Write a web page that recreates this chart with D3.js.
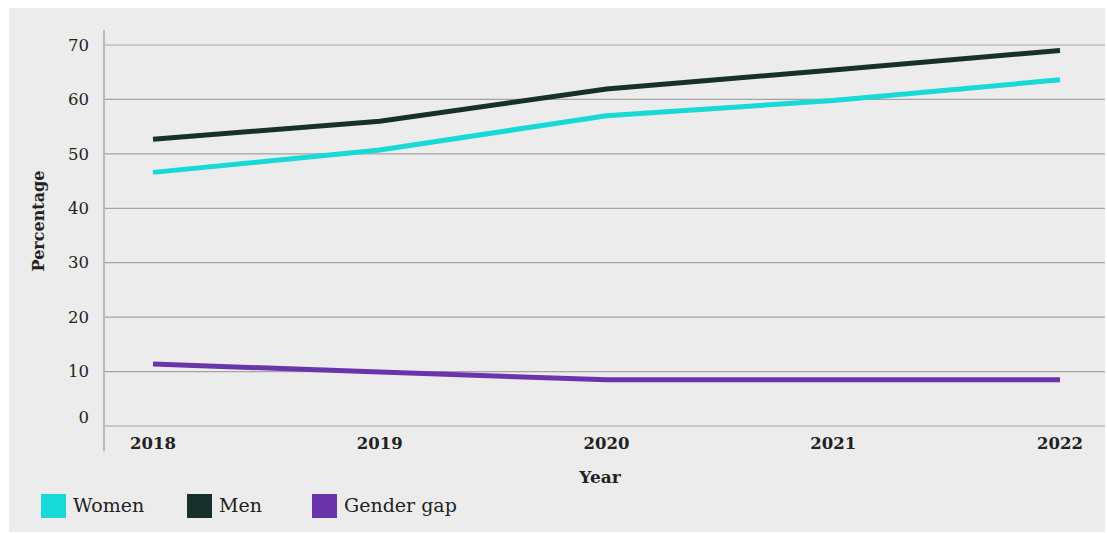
<!DOCTYPE html>
<html lang="en">
<head>
<meta charset="UTF-8">
<title>Percentage by year</title>
<script src="https://d3js.org/d3.v7.min.js"></script>
<style>
    body{ margin:0; background:#fff; }
    text{ font-family: "DejaVu Serif", serif; fill:#222; }
    .grid line{ stroke:#a3a3a3; stroke-width:1.2px; }
    .xtick{ font-weight:bold; font-size:16.5px; }
    .ytick{ font-size:16.5px; }
    path.series{ fill:none; stroke-width:5px; }
</style>
</head>
<body>
<svg width="1107" height="533"></svg>
<script>
    let years = ["2018","2019","2020","2021","2022"];
    let women = [46.6, 50.7, 57.0, 59.8, 63.6];
    let men = [52.7, 56.0, 61.9, 65.4, 69.0];
    let gap = [11.4, 9.9, 8.5, 8.5, 8.5];
    let yTicks = [0,10,20,30,40,50,60,70];
    let seriesNames = ["Women","Men","Gender gap"];
    let seriesColors = ["#17d9d7","#17302a","#6a35ab"];

    let svg = d3.select('svg');
    svg.append('rect').attr('x',9).attr('y',8).attr('width',1096).attr('height',524).attr('fill','#ececec');

    let xScale = d3.scalePoint().domain(years).range([153,1060]);
    let yScale = d3.scaleLinear().domain([0,70]).range([426,45]);

    // gridlines
    let grid = svg.append('g').attr('class','grid');
    grid.selectAll('line').data(yTicks).join('line')
        .attr('x1',104).attr('x2',1105)
        .attr('y1',d=>yScale(d)).attr('y2',d=>yScale(d));

    // y axis line
    svg.append('line').attr('x1',104).attr('x2',104).attr('y1',30).attr('y2',451)
        .attr('stroke','#b9b9b9').attr('stroke-width',2);

    svg.selectAll('text.ytick').data(yTicks).join('text')
        .attr('class','ytick').attr('x',89).attr('y',d=>yScale(d)).attr('dy', d=> d===0 ? '-0.2em' : '0.35em')
        .attr('text-anchor','end').text(d=>d);

    svg.selectAll('text.xtick').data(years).join('text')
        .attr('class','xtick').attr('x',d=>xScale(d)).attr('y',449)
        .attr('text-anchor','middle').text(d=>d);

    svg.append('text').attr('x',600).attr('y',483).attr('text-anchor','middle')
        .style('font-weight','bold').style('font-size','17px').text('Year');
    svg.append('text').attr('transform','translate(44,221) rotate(-90)').attr('text-anchor','middle')
        .style('font-weight','bold').style('font-size','16px').text('Percentage');

    let line = d3.line().x((d,i)=>xScale(years[i])).y(d=>yScale(d));
    let allSeries = [women, men, gap];
    svg.append('g').selectAll('path').data(allSeries).join('path')
        .attr('class','series')
        .attr('stroke',(d,i)=>seriesColors[i])
        .attr('d',d=>line(d));

    // legend
    let legendX = [41,187,312];
    let lg = svg.append('g').selectAll('g').data(seriesNames).join('g')
        .attr('transform',(d,i)=>'translate('+legendX[i]+',494)');
    lg.append('rect').attr('width',25).attr('height',24).attr('fill',(d,i)=>seriesColors[i]);
    lg.append('text').attr('x',32).attr('y',18).style('font-size','19px').text(d=>d);
</script>
</body>
</html>
